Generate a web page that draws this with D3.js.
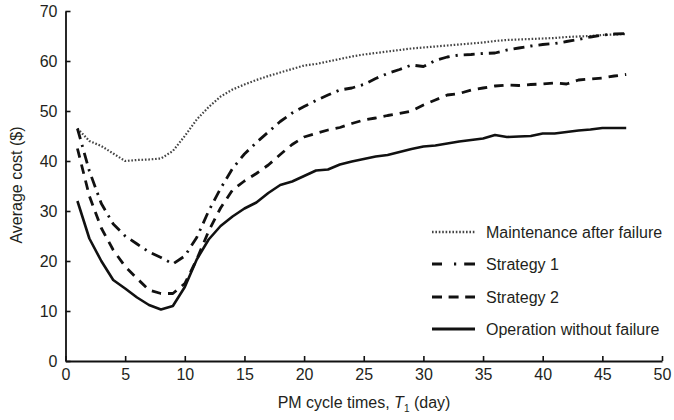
<!DOCTYPE html>
<html>
<head>
<meta charset="utf-8">
<script src="https://cdn.jsdelivr.net/npm/d3@7"></script>
<style>
  html, body { margin: 0; padding: 0; background: #fff; }
  svg text { font-family: "Liberation Sans", Arial, Helvetica, sans-serif; fill: #231f20; }
</style>
</head>
<body>
<svg id="chart" width="674" height="420"></svg>
<script>
// PM cycle time T1 (days)
const cycleDays = d3.range(1, 48);

// Average cost ($) for each policy
const maintenanceAfterFailure = [46.5, 44.0, 43.0, 41.5, 40.0, 40.2, 40.3, 40.5, 42.0, 45.0,
  48.3, 50.8, 52.9, 54.3, 55.3, 56.2, 57.0, 57.7, 58.4, 59.1, 59.4, 59.9, 60.4, 60.9,
  61.3, 61.6, 61.9, 62.2, 62.5, 62.7, 62.9, 63.1, 63.3, 63.5, 63.7, 64.0, 64.2, 64.3,
  64.4, 64.5, 64.6, 64.8, 64.9, 65.0, 65.2, 65.3, 65.4];
const strategy1 = [46.5, 38.0, 31.5, 27.4, 25.0, 23.4, 21.8, 20.7, 19.4, 21.0,
  24.7, 30.0, 34.5, 38.5, 41.4, 43.7, 45.8, 47.9, 49.6, 50.9, 52.1, 53.2, 54.2, 54.6,
  55.3, 56.5, 57.5, 58.3, 59.2, 58.9, 60.1, 60.8, 61.2, 61.3, 61.5, 61.6, 62.2, 62.6,
  63.0, 63.3, 63.5, 63.9, 64.3, 64.8, 65.2, 65.4, 65.5];
const strategy2 = [42.5, 33.0, 26.6, 22.2, 18.9, 16.5, 14.2, 13.5, 13.5, 15.5,
  20.3, 26.0, 30.6, 34.2, 36.0, 37.5, 39.2, 41.3, 43.3, 44.8, 45.5, 46.2, 46.7, 47.5,
  48.2, 48.6, 49.1, 49.5, 50.0, 51.2, 52.2, 53.2, 53.5, 54.2, 54.6, 55.0, 55.2, 55.1,
  55.3, 55.4, 55.6, 55.4, 56.2, 56.4, 56.6, 57.0, 57.3];
const operationWithoutFailure = [32.0, 24.5, 20.0, 16.2, 14.5, 12.7, 11.2, 10.3, 11.0, 14.8,
  20.3, 24.3, 27.0, 28.9, 30.5, 31.7, 33.6, 35.2, 35.9, 37.0, 38.1, 38.3, 39.3, 39.9,
  40.4, 40.9, 41.2, 41.8, 42.4, 42.9, 43.1, 43.5, 43.9, 44.2, 44.5, 45.2, 44.8, 44.9,
  45.0, 45.5, 45.5, 45.8, 46.1, 46.3, 46.6, 46.6, 46.6];

const seriesNames = ["Maintenance after failure", "Strategy 1", "Strategy 2", "Operation without failure"];
const xTicks = [0, 5, 10, 15, 20, 25, 30, 35, 40, 45, 50];
const yTicks = [0, 10, 20, 30, 40, 50, 60, 70];

const fontSize = 16;
const svg = d3.select("#chart");

const x = d3.scaleLinear().domain([0, 50]).range([65.5, 662]);
const y = d3.scaleLinear().domain([0, 70]).range([361, 11]);

// line styles per series
const styles = [
  { values: maintenanceAfterFailure, width: 2.2, dash: "1.6,1.8", color: "#444", legendDash: "1.6,1.8" },
  { values: strategy1, width: 2.8, dash: "11,6,2.2,6", color: "#111", legendDash: "10,12,2.2,8,11,40" },
  { values: strategy2, width: 2.8, dash: "9.5,7", color: "#111", legendDash: "10,6.6" },
  { values: operationWithoutFailure, width: 2.6, dash: null, color: "#111", legendDash: null }
];

// axes
const xAxis = d3.axisBottom(x).tickValues(xTicks).tickSizeInner(-5).tickSizeOuter(0).tickPadding(8);
const yAxis = d3.axisLeft(y).tickValues(yTicks).tickSizeInner(-5).tickSizeOuter(0).tickPadding(8);

const gx = svg.append("g").attr("transform", `translate(0,${y(0)})`).call(xAxis);
const gy = svg.append("g").attr("transform", `translate(${x(0)},0)`).call(yAxis);

[gx, gy].forEach(g => {
  g.select(".domain").attr("stroke", "#111").attr("stroke-width", 1.8);
  g.selectAll(".tick line").attr("stroke", "#111").attr("stroke-width", 1.6);
  g.selectAll(".tick text")
    .attr("font-size", fontSize)
    .attr("font-family", "'Liberation Sans', Arial, sans-serif")
    .attr("fill", "#231f20");
});

// series lines
const line = d3.line()
  .x((d, i) => x(cycleDays[i]))
  .y(d => y(d));

styles.forEach(s => {
  svg.append("path")
    .datum(s.values)
    .attr("fill", "none")
    .attr("stroke", s.color)
    .attr("stroke-width", s.width)
    .attr("stroke-linejoin", "round")
    .attr("stroke-dasharray", s.dash)
    .attr("d", line);
});

// legend
const legendRows = [232, 264, 297, 329];
const legend = svg.append("g");
styles.forEach((s, i) => {
  legend.append("line")
    .attr("x1", 432).attr("x2", 475)
    .attr("y1", legendRows[i]).attr("y2", legendRows[i])
    .attr("stroke", s.color)
    .attr("stroke-width", s.width + 0.2)
    .attr("stroke-dasharray", s.legendDash);
  legend.append("text")
    .attr("x", 486)
    .attr("y", legendRows[i])
    .attr("dy", "0.35em")
    .attr("font-size", fontSize)
    .text(seriesNames[i]);
});

// axis titles
const xTitle = svg.append("text")
  .attr("x", 364)
  .attr("y", 408)
  .attr("text-anchor", "middle")
  .attr("font-size", fontSize);
xTitle.append("tspan").text("PM cycle times, ");
xTitle.append("tspan").attr("font-style", "italic").text("T");
xTitle.append("tspan").attr("font-size", 10).attr("dy", 4).text("1");
xTitle.append("tspan").attr("dy", -4).text(" (day)");

svg.append("text")
  .attr("transform", "translate(22,185) rotate(-90)")
  .attr("text-anchor", "middle")
  .attr("font-size", fontSize)
  .text("Average cost ($)");
</script>
</body>
</html>
